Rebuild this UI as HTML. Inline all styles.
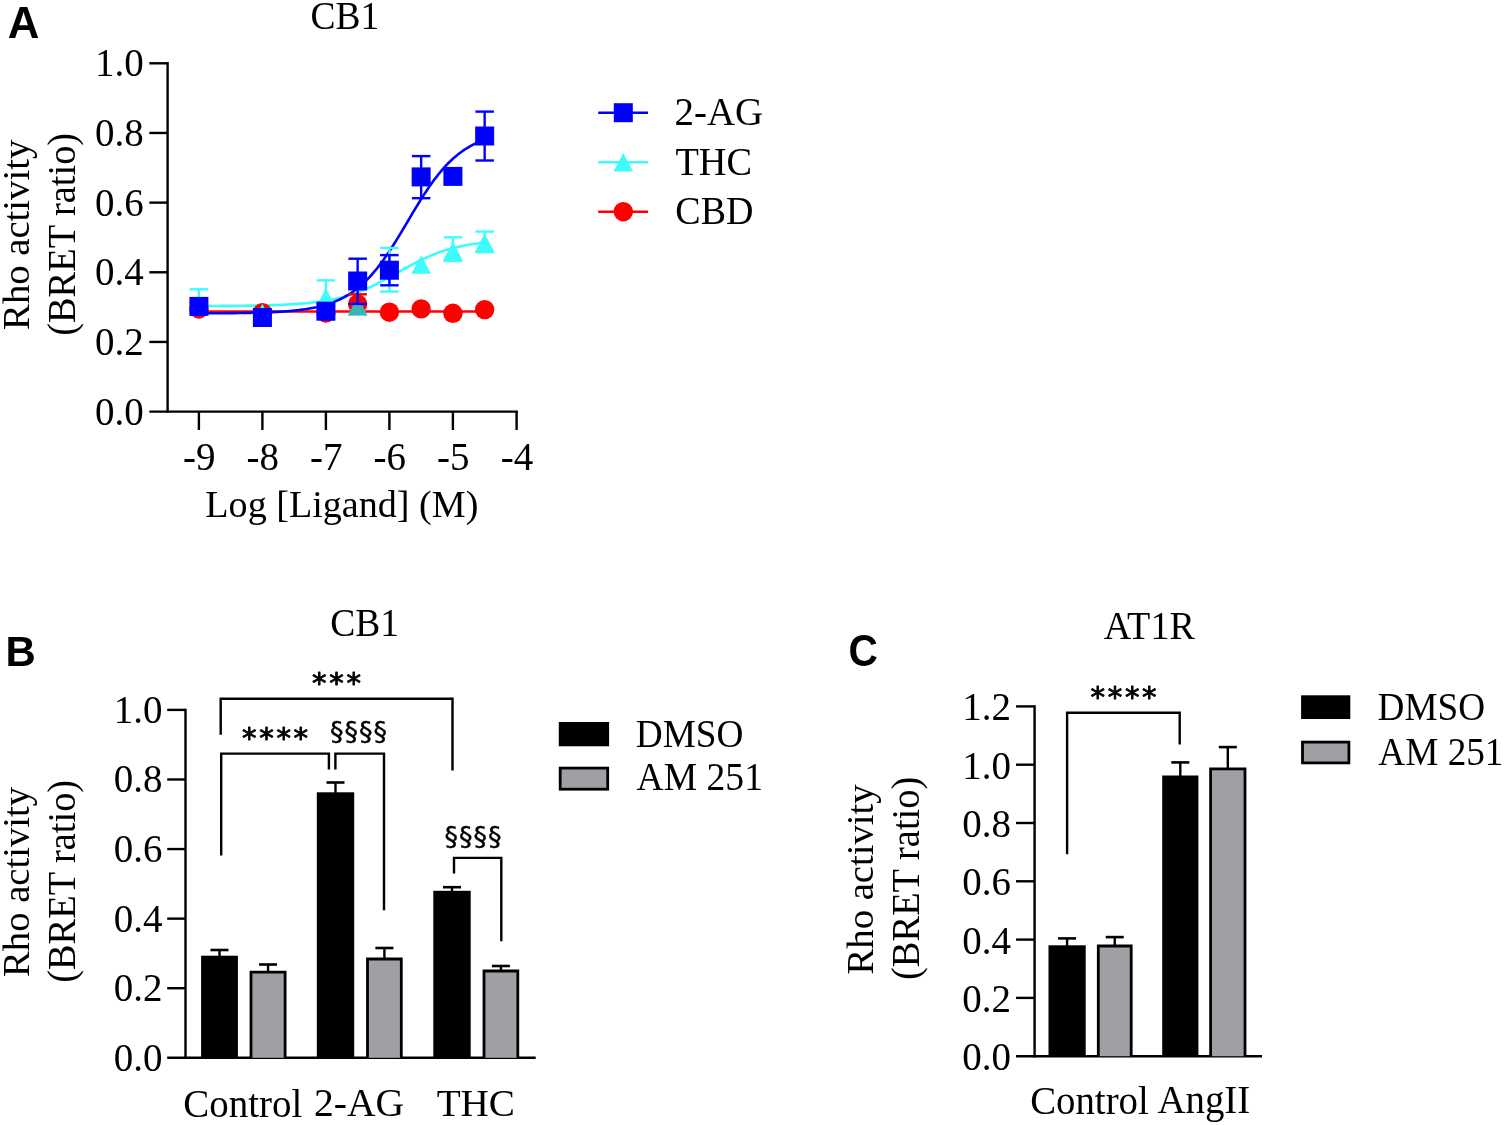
<!DOCTYPE html>
<html><head><meta charset="utf-8"><title>Rho activity BRET figure</title>
<style>html,body{margin:0;padding:0;background:#fff;overflow:hidden}svg{display:block}</style>
</head><body>
<svg width="1505" height="1125" viewBox="0 0 1505 1125">
<rect width="1505" height="1125" fill="#fff"/>
<text transform="matrix(1.0191,0.0000,0.0000,1.0136,7.6809,38.4000)" font-family="'Liberation Sans',Arial,sans-serif" font-size="43" font-weight="bold" >A</text>
<text transform="matrix(0.9864,0.0000,0.0000,1.0549,310.4205,28.7363)" font-family="'Liberation Serif','Times New Roman',serif" font-size="38" font-weight="normal" >CB1</text>
<line x1="167.60" y1="62.10" x2="167.60" y2="412.80" stroke="#000" stroke-width="2.4" stroke-linecap="butt"/>
<line x1="149.30" y1="341.94" x2="167.60" y2="341.94" stroke="#000" stroke-width="2.4" stroke-linecap="butt"/>
<line x1="149.30" y1="272.28" x2="167.60" y2="272.28" stroke="#000" stroke-width="2.4" stroke-linecap="butt"/>
<line x1="149.30" y1="202.62" x2="167.60" y2="202.62" stroke="#000" stroke-width="2.4" stroke-linecap="butt"/>
<line x1="149.30" y1="132.96" x2="167.60" y2="132.96" stroke="#000" stroke-width="2.4" stroke-linecap="butt"/>
<line x1="149.30" y1="63.30" x2="167.60" y2="63.30" stroke="#000" stroke-width="2.4" stroke-linecap="butt"/>
<text transform="translate(143.80,424.60) scale(1,1.03)" font-family="'Liberation Serif','Times New Roman',serif" font-size="39" text-anchor="end">0.0</text>
<text transform="translate(143.80,354.94) scale(1,1.03)" font-family="'Liberation Serif','Times New Roman',serif" font-size="39" text-anchor="end">0.2</text>
<text transform="translate(143.80,285.28) scale(1,1.03)" font-family="'Liberation Serif','Times New Roman',serif" font-size="39" text-anchor="end">0.4</text>
<text transform="translate(143.80,215.62) scale(1,1.03)" font-family="'Liberation Serif','Times New Roman',serif" font-size="39" text-anchor="end">0.6</text>
<text transform="translate(143.80,145.96) scale(1,1.03)" font-family="'Liberation Serif','Times New Roman',serif" font-size="39" text-anchor="end">0.8</text>
<text transform="translate(143.80,76.30) scale(1,1.03)" font-family="'Liberation Serif','Times New Roman',serif" font-size="39" text-anchor="end">1.0</text>
<line x1="149.30" y1="411.60" x2="517.90" y2="411.60" stroke="#000" stroke-width="2.4" stroke-linecap="butt"/>
<line x1="198.90" y1="411.60" x2="198.90" y2="430.00" stroke="#000" stroke-width="2.4" stroke-linecap="butt"/>
<text transform="translate(199.20,470.2) scale(1,1.03)" font-family="'Liberation Serif','Times New Roman',serif" font-size="39" text-anchor="middle">-9</text>
<line x1="262.40" y1="411.60" x2="262.40" y2="430.00" stroke="#000" stroke-width="2.4" stroke-linecap="butt"/>
<text transform="translate(262.70,470.2) scale(1,1.03)" font-family="'Liberation Serif','Times New Roman',serif" font-size="39" text-anchor="middle">-8</text>
<line x1="325.90" y1="411.60" x2="325.90" y2="430.00" stroke="#000" stroke-width="2.4" stroke-linecap="butt"/>
<text transform="translate(326.20,470.2) scale(1,1.03)" font-family="'Liberation Serif','Times New Roman',serif" font-size="39" text-anchor="middle">-7</text>
<line x1="389.40" y1="411.60" x2="389.40" y2="430.00" stroke="#000" stroke-width="2.4" stroke-linecap="butt"/>
<text transform="translate(389.70,470.2) scale(1,1.03)" font-family="'Liberation Serif','Times New Roman',serif" font-size="39" text-anchor="middle">-6</text>
<line x1="452.90" y1="411.60" x2="452.90" y2="430.00" stroke="#000" stroke-width="2.4" stroke-linecap="butt"/>
<text transform="translate(453.20,470.2) scale(1,1.03)" font-family="'Liberation Serif','Times New Roman',serif" font-size="39" text-anchor="middle">-5</text>
<line x1="516.60" y1="411.60" x2="516.60" y2="430.00" stroke="#000" stroke-width="2.4" stroke-linecap="butt"/>
<text transform="translate(516.90,470.2) scale(1,1.03)" font-family="'Liberation Serif','Times New Roman',serif" font-size="39" text-anchor="middle">-4</text>
<text transform="matrix(1.0030,0.0000,0.0000,1.0203,205.2970,516.5826)" font-family="'Liberation Serif','Times New Roman',serif" font-size="38" font-weight="normal" >Log [Ligand] (M)</text>
<text transform="matrix(0.0000,-1.0186,1.0232,0.0000,29.2587,329.9186)" font-family="'Liberation Serif','Times New Roman',serif" font-size="38" font-weight="normal" >Rho activity</text>
<text transform="matrix(0.0000,-1.0106,1.0307,0.0000,74.8547,335.7686)" font-family="'Liberation Serif','Times New Roman',serif" font-size="38" font-weight="normal" >(BRET ratio)</text>
<polyline points="198.90,311.46 200.34,311.46 201.77,311.46 203.21,311.46 204.64,311.46 206.08,311.46 207.52,311.46 208.95,311.46 210.39,311.46 211.82,311.46 213.26,311.46 214.70,311.46 216.13,311.46 217.57,311.46 219.00,311.46 220.44,311.46 221.87,311.46 223.31,311.46 224.75,311.46 226.18,311.46 227.62,311.46 229.05,311.46 230.49,311.46 231.93,311.46 233.36,311.46 234.80,311.46 236.23,311.46 237.67,311.46 239.11,311.46 240.54,311.46 241.98,311.46 243.41,311.46 244.85,311.46 246.29,311.46 247.72,311.46 249.16,311.46 250.59,311.46 252.03,311.46 253.47,311.46 254.90,311.46 256.34,311.46 257.77,311.46 259.21,311.46 260.64,311.46 262.08,311.46 263.52,311.46 264.95,311.46 266.39,311.46 267.82,311.46 269.26,311.46 270.70,311.46 272.13,311.46 273.57,311.46 275.00,311.46 276.44,311.46 277.88,311.46 279.31,311.46 280.75,311.46 282.18,311.46 283.62,311.46 285.06,311.46 286.49,311.46 287.93,311.46 289.36,311.46 290.80,311.46 292.24,311.46 293.67,311.46 295.11,311.46 296.54,311.46 297.98,311.46 299.42,311.46 300.85,311.46 302.29,311.46 303.72,311.46 305.16,311.46 306.59,311.46 308.03,311.46 309.47,311.46 310.90,311.46 312.34,311.46 313.77,311.46 315.21,311.46 316.65,311.46 318.08,311.46 319.52,311.46 320.95,311.46 322.39,311.46 323.83,311.46 325.26,311.46 326.70,311.46 328.13,311.46 329.57,311.46 331.01,311.46 332.44,311.46 333.88,311.46 335.31,311.46 336.75,311.46 338.19,311.46 339.62,311.46 341.06,311.46 342.49,311.46 343.93,311.46 345.36,311.46 346.80,311.46 348.24,311.46 349.67,311.46 351.11,311.46 352.54,311.46 353.98,311.46 355.42,311.46 356.85,311.46 358.29,311.46 359.72,311.46 361.16,311.46 362.60,311.46 364.03,311.46 365.47,311.46 366.90,311.46 368.34,311.46 369.78,311.46 371.21,311.46 372.65,311.46 374.08,311.46 375.52,311.46 376.96,311.46 378.39,311.46 379.83,311.46 381.26,311.46 382.70,311.46 384.13,311.46 385.57,311.46 387.01,311.46 388.44,311.46 389.88,311.46 391.31,311.46 392.75,311.46 394.19,311.46 395.62,311.46 397.06,311.46 398.49,311.46 399.93,311.46 401.37,311.46 402.80,311.46 404.24,311.46 405.67,311.46 407.11,311.46 408.55,311.46 409.98,311.46 411.42,311.46 412.85,311.46 414.29,311.46 415.73,311.46 417.16,311.46 418.60,311.46 420.03,311.46 421.47,311.46 422.91,311.46 424.34,311.46 425.78,311.46 427.21,311.46 428.65,311.46 430.08,311.46 431.52,311.46 432.96,311.46 434.39,311.46 435.83,311.46 437.26,311.46 438.70,311.46 440.14,311.46 441.57,311.46 443.01,311.46 444.44,311.46 445.88,311.46 447.32,311.46 448.75,311.46 450.19,311.46 451.62,311.46 453.06,311.46 454.50,311.46 455.93,311.46 457.37,311.46 458.80,311.46 460.24,311.46 461.68,311.46 463.11,311.46 464.55,311.46 465.98,311.46 467.42,311.46 468.85,311.46 470.29,311.46 471.73,311.46 473.16,311.46 474.60,311.46 476.03,311.46 477.47,311.46 478.91,311.46 480.34,311.46 481.78,311.46 483.21,311.46 484.65,311.46" fill="none" stroke="#ff0000" stroke-width="2.6" stroke-linejoin="miter"/>
<polyline points="198.90,306.01 200.34,306.00 201.77,306.00 203.21,305.99 204.64,305.99 206.08,305.98 207.52,305.98 208.95,305.97 210.39,305.97 211.82,305.96 213.26,305.96 214.70,305.95 216.13,305.94 217.57,305.94 219.00,305.93 220.44,305.92 221.87,305.91 223.31,305.90 224.75,305.90 226.18,305.89 227.62,305.88 229.05,305.87 230.49,305.86 231.93,305.84 233.36,305.83 234.80,305.82 236.23,305.81 237.67,305.79 239.11,305.78 240.54,305.76 241.98,305.75 243.41,305.73 244.85,305.71 246.29,305.69 247.72,305.67 249.16,305.65 250.59,305.63 252.03,305.61 253.47,305.58 254.90,305.56 256.34,305.53 257.77,305.51 259.21,305.48 260.64,305.45 262.08,305.42 263.52,305.38 264.95,305.35 266.39,305.31 267.82,305.27 269.26,305.23 270.70,305.19 272.13,305.15 273.57,305.10 275.00,305.05 276.44,305.00 277.88,304.95 279.31,304.89 280.75,304.84 282.18,304.77 283.62,304.71 285.06,304.64 286.49,304.57 287.93,304.50 289.36,304.42 290.80,304.34 292.24,304.26 293.67,304.17 295.11,304.08 296.54,303.98 297.98,303.88 299.42,303.77 300.85,303.66 302.29,303.54 303.72,303.42 305.16,303.29 306.59,303.16 308.03,303.02 309.47,302.88 310.90,302.72 312.34,302.56 313.77,302.40 315.21,302.22 316.65,302.04 318.08,301.85 319.52,301.66 320.95,301.45 322.39,301.24 323.83,301.01 325.26,300.78 326.70,300.54 328.13,300.29 329.57,300.02 331.01,299.75 332.44,299.46 333.88,299.17 335.31,298.86 336.75,298.54 338.19,298.21 339.62,297.86 341.06,297.51 342.49,297.14 343.93,296.75 345.36,296.35 346.80,295.94 348.24,295.52 349.67,295.08 351.11,294.62 352.54,294.15 353.98,293.67 355.42,293.17 356.85,292.65 358.29,292.12 359.72,291.58 361.16,291.02 362.60,290.44 364.03,289.85 365.47,289.24 366.90,288.62 368.34,287.99 369.78,287.34 371.21,286.67 372.65,286.00 374.08,285.31 375.52,284.60 376.96,283.89 378.39,283.16 379.83,282.42 381.26,281.67 382.70,280.92 384.13,280.15 385.57,279.37 387.01,278.59 388.44,277.80 389.88,277.00 391.31,276.20 392.75,275.39 394.19,274.58 395.62,273.77 397.06,272.96 398.49,272.15 399.93,271.34 401.37,270.53 402.80,269.72 404.24,268.92 405.67,268.12 407.11,267.32 408.55,266.53 409.98,265.75 411.42,264.98 412.85,264.21 414.29,263.46 415.73,262.71 417.16,261.98 418.60,261.26 420.03,260.55 421.47,259.85 422.91,259.16 424.34,258.49 425.78,257.83 427.21,257.19 428.65,256.56 430.08,255.94 431.52,255.34 432.96,254.76 434.39,254.19 435.83,253.63 437.26,253.09 438.70,252.57 440.14,252.06 441.57,251.57 443.01,251.09 444.44,250.62 445.88,250.17 447.32,249.74 448.75,249.32 450.19,248.91 451.62,248.52 453.06,248.14 454.50,247.77 455.93,247.42 457.37,247.08 458.80,246.75 460.24,246.44 461.68,246.13 463.11,245.84 464.55,245.56 465.98,245.29 467.42,245.03 468.85,244.78 470.29,244.54 471.73,244.31 473.16,244.09 474.60,243.88 476.03,243.68 477.47,243.49 478.91,243.30 480.34,243.12 481.78,242.95 483.21,242.79 484.65,242.63" fill="none" stroke="#3cfcfc" stroke-width="2.6" stroke-linejoin="miter"/>
<polyline points="198.90,313.32 200.34,313.31 201.77,313.31 203.21,313.30 204.64,313.30 206.08,313.29 207.52,313.29 208.95,313.28 210.39,313.27 211.82,313.27 213.26,313.26 214.70,313.25 216.13,313.24 217.57,313.23 219.00,313.23 220.44,313.22 221.87,313.21 223.31,313.19 224.75,313.18 226.18,313.17 227.62,313.16 229.05,313.15 230.49,313.13 231.93,313.12 233.36,313.10 234.80,313.08 236.23,313.07 237.67,313.05 239.11,313.03 240.54,313.01 241.98,312.99 243.41,312.97 244.85,312.94 246.29,312.92 247.72,312.89 249.16,312.86 250.59,312.83 252.03,312.80 253.47,312.77 254.90,312.74 256.34,312.70 257.77,312.66 259.21,312.62 260.64,312.58 262.08,312.54 263.52,312.49 264.95,312.44 266.39,312.39 267.82,312.33 269.26,312.28 270.70,312.21 272.13,312.15 273.57,312.08 275.00,312.01 276.44,311.94 277.88,311.86 279.31,311.78 280.75,311.69 282.18,311.60 283.62,311.50 285.06,311.40 286.49,311.29 287.93,311.18 289.36,311.06 290.80,310.93 292.24,310.80 293.67,310.66 295.11,310.51 296.54,310.36 297.98,310.20 299.42,310.03 300.85,309.85 302.29,309.66 303.72,309.46 305.16,309.25 306.59,309.03 308.03,308.80 309.47,308.56 310.90,308.30 312.34,308.04 313.77,307.75 315.21,307.46 316.65,307.15 318.08,306.82 319.52,306.48 320.95,306.11 322.39,305.74 323.83,305.34 325.26,304.92 326.70,304.48 328.13,304.03 329.57,303.54 331.01,303.04 332.44,302.51 333.88,301.96 335.31,301.38 336.75,300.77 338.19,300.14 339.62,299.47 341.06,298.78 342.49,298.05 343.93,297.29 345.36,296.50 346.80,295.67 348.24,294.81 349.67,293.90 351.11,292.97 352.54,291.99 353.98,290.97 355.42,289.91 356.85,288.80 358.29,287.66 359.72,286.47 361.16,285.23 362.60,283.95 364.03,282.62 365.47,281.24 366.90,279.82 368.34,278.34 369.78,276.82 371.21,275.25 372.65,273.63 374.08,271.96 375.52,270.24 376.96,268.47 378.39,266.65 379.83,264.79 381.26,262.88 382.70,260.92 384.13,258.92 385.57,256.87 387.01,254.79 388.44,252.66 389.88,250.49 391.31,248.29 392.75,246.05 394.19,243.78 395.62,241.48 397.06,239.16 398.49,236.81 399.93,234.44 401.37,232.06 402.80,229.65 404.24,227.24 405.67,224.82 407.11,222.39 408.55,219.97 409.98,217.54 411.42,215.12 412.85,212.71 414.29,210.31 415.73,207.93 417.16,205.56 418.60,203.22 420.03,200.90 421.47,198.61 422.91,196.35 424.34,194.12 425.78,191.92 427.21,189.76 428.65,187.64 430.08,185.56 431.52,183.53 432.96,181.53 434.39,179.59 435.83,177.68 437.26,175.83 438.70,174.02 440.14,172.27 441.57,170.56 443.01,168.90 444.44,167.29 445.88,165.72 447.32,164.21 448.75,162.75 450.19,161.33 451.62,159.97 453.06,158.65 454.50,157.37 455.93,156.15 457.37,154.97 458.80,153.83 460.24,152.73 461.68,151.68 463.11,150.67 464.55,149.70 465.98,148.77 467.42,147.88 468.85,147.02 470.29,146.20 471.73,145.41 473.16,144.66 474.60,143.94 476.03,143.25 477.47,142.59 478.91,141.96 480.34,141.36 481.78,140.79 483.21,140.24 484.65,139.72" fill="none" stroke="#0000ff" stroke-width="2.6" stroke-linejoin="miter"/>
<polygon points="347.90,315.50 367.40,315.50 357.65,295.50" fill="#3cfcfc"/>
<circle cx="198.90" cy="309.00" r="9.7" fill="#ff0000"/>
<circle cx="262.40" cy="312.70" r="9.7" fill="#ff0000"/>
<circle cx="325.90" cy="313.00" r="9.7" fill="#ff0000"/>
<line x1="357.65" y1="294.30" x2="357.65" y2="304.00" stroke="#ff0000" stroke-width="2.4" stroke-linecap="butt"/>
<line x1="348.40" y1="294.30" x2="366.90" y2="294.30" stroke="#ff0000" stroke-width="2.4" stroke-linecap="butt"/>
<circle cx="357.65" cy="304.00" r="9.7" fill="#ff0000"/>
<circle cx="389.40" cy="312.20" r="9.7" fill="#ff0000"/>
<circle cx="421.15" cy="308.90" r="9.7" fill="#ff0000"/>
<circle cx="452.90" cy="313.30" r="9.7" fill="#ff0000"/>
<circle cx="484.65" cy="309.60" r="9.7" fill="#ff0000"/>
<polygon points="347.90,315.5 367.40,315.5 362.25,305 353.05,305" fill="#3cb4b4"/>
<line x1="198.90" y1="289.30" x2="198.90" y2="306.00" stroke="#3cfcfc" stroke-width="2.4" stroke-linecap="butt"/>
<line x1="189.65" y1="289.30" x2="208.15" y2="289.30" stroke="#3cfcfc" stroke-width="2.4" stroke-linecap="butt"/>
<polygon points="189.15,315.25 208.65,315.25 198.90,296.75" fill="#3cfcfc"/>
<polygon points="252.65,322.25 272.15,322.25 262.40,303.75" fill="#3cfcfc"/>
<line x1="325.90" y1="280.40" x2="325.90" y2="297.50" stroke="#3cfcfc" stroke-width="2.4" stroke-linecap="butt"/>
<line x1="316.65" y1="280.40" x2="335.15" y2="280.40" stroke="#3cfcfc" stroke-width="2.4" stroke-linecap="butt"/>
<polygon points="316.15,306.75 335.65,306.75 325.90,288.25" fill="#3cfcfc"/>
<line x1="389.40" y1="248.00" x2="389.40" y2="270.00" stroke="#3cfcfc" stroke-width="2.4" stroke-linecap="butt"/>
<line x1="380.15" y1="248.00" x2="398.65" y2="248.00" stroke="#3cfcfc" stroke-width="2.4" stroke-linecap="butt"/>
<line x1="389.40" y1="270.00" x2="389.40" y2="291.60" stroke="#3cfcfc" stroke-width="2.4" stroke-linecap="butt"/>
<line x1="380.15" y1="291.60" x2="398.65" y2="291.60" stroke="#3cfcfc" stroke-width="2.4" stroke-linecap="butt"/>
<polygon points="379.65,279.25 399.15,279.25 389.40,260.75" fill="#3cfcfc"/>
<polygon points="411.40,273.75 430.90,273.75 421.15,255.25" fill="#3cfcfc"/>
<line x1="452.90" y1="237.30" x2="452.90" y2="251.00" stroke="#3cfcfc" stroke-width="2.4" stroke-linecap="butt"/>
<line x1="443.65" y1="237.30" x2="462.15" y2="237.30" stroke="#3cfcfc" stroke-width="2.4" stroke-linecap="butt"/>
<line x1="452.90" y1="251.00" x2="452.90" y2="261.00" stroke="#3cfcfc" stroke-width="2.4" stroke-linecap="butt"/>
<line x1="443.65" y1="261.00" x2="462.15" y2="261.00" stroke="#3cfcfc" stroke-width="2.4" stroke-linecap="butt"/>
<polygon points="443.15,260.25 462.65,260.25 452.90,241.75" fill="#3cfcfc"/>
<line x1="484.65" y1="231.60" x2="484.65" y2="242.70" stroke="#3cfcfc" stroke-width="2.4" stroke-linecap="butt"/>
<line x1="475.40" y1="231.60" x2="493.90" y2="231.60" stroke="#3cfcfc" stroke-width="2.4" stroke-linecap="butt"/>
<line x1="484.65" y1="242.70" x2="484.65" y2="252.00" stroke="#3cfcfc" stroke-width="2.4" stroke-linecap="butt"/>
<line x1="475.40" y1="252.00" x2="493.90" y2="252.00" stroke="#3cfcfc" stroke-width="2.4" stroke-linecap="butt"/>
<polygon points="474.90,251.95 494.40,251.95 484.65,233.45" fill="#3cfcfc"/>
<rect x="189.40" y="296.90" width="19.00" height="19.00" fill="#0000ff"/>
<rect x="252.90" y="308.00" width="19.00" height="19.00" fill="#0000ff"/>
<rect x="316.40" y="301.70" width="19.00" height="19.00" fill="#0000ff"/>
<line x1="357.65" y1="258.70" x2="357.65" y2="281.00" stroke="#0000ff" stroke-width="2.4" stroke-linecap="butt"/>
<line x1="348.40" y1="258.70" x2="366.90" y2="258.70" stroke="#0000ff" stroke-width="2.4" stroke-linecap="butt"/>
<line x1="357.65" y1="281.00" x2="357.65" y2="303.90" stroke="#0000ff" stroke-width="2.4" stroke-linecap="butt"/>
<line x1="348.40" y1="303.90" x2="366.90" y2="303.90" stroke="#0000ff" stroke-width="2.4" stroke-linecap="butt"/>
<rect x="348.15" y="271.50" width="19.00" height="19.00" fill="#0000ff"/>
<line x1="389.40" y1="255.10" x2="389.40" y2="270.20" stroke="#0000ff" stroke-width="2.4" stroke-linecap="butt"/>
<line x1="380.15" y1="255.10" x2="398.65" y2="255.10" stroke="#0000ff" stroke-width="2.4" stroke-linecap="butt"/>
<line x1="389.40" y1="270.20" x2="389.40" y2="285.30" stroke="#0000ff" stroke-width="2.4" stroke-linecap="butt"/>
<line x1="380.15" y1="285.30" x2="398.65" y2="285.30" stroke="#0000ff" stroke-width="2.4" stroke-linecap="butt"/>
<rect x="379.90" y="260.70" width="19.00" height="19.00" fill="#0000ff"/>
<line x1="421.15" y1="156.10" x2="421.15" y2="176.90" stroke="#0000ff" stroke-width="2.4" stroke-linecap="butt"/>
<line x1="411.90" y1="156.10" x2="430.40" y2="156.10" stroke="#0000ff" stroke-width="2.4" stroke-linecap="butt"/>
<line x1="421.15" y1="176.90" x2="421.15" y2="198.20" stroke="#0000ff" stroke-width="2.4" stroke-linecap="butt"/>
<line x1="411.90" y1="198.20" x2="430.40" y2="198.20" stroke="#0000ff" stroke-width="2.4" stroke-linecap="butt"/>
<rect x="411.65" y="167.40" width="19.00" height="19.00" fill="#0000ff"/>
<rect x="443.40" y="166.90" width="19.00" height="19.00" fill="#0000ff"/>
<line x1="484.65" y1="111.60" x2="484.65" y2="136.00" stroke="#0000ff" stroke-width="2.4" stroke-linecap="butt"/>
<line x1="475.40" y1="111.60" x2="493.90" y2="111.60" stroke="#0000ff" stroke-width="2.4" stroke-linecap="butt"/>
<line x1="484.65" y1="136.00" x2="484.65" y2="160.50" stroke="#0000ff" stroke-width="2.4" stroke-linecap="butt"/>
<line x1="475.40" y1="160.50" x2="493.90" y2="160.50" stroke="#0000ff" stroke-width="2.4" stroke-linecap="butt"/>
<rect x="475.15" y="126.50" width="19.00" height="19.00" fill="#0000ff"/>
<line x1="598.20" y1="112.70" x2="648.00" y2="112.70" stroke="#0000ff" stroke-width="2.6" stroke-linecap="butt"/>
<rect x="613.80" y="103.20" width="19.00" height="19.00" fill="#0000ff"/>
<text transform="matrix(0.9983,0.0000,0.0000,1.0192,674.5531,124.6452)" font-family="'Liberation Serif','Times New Roman',serif" font-size="39" font-weight="normal" >2-AG</text>
<line x1="598.20" y1="162.20" x2="648.00" y2="162.20" stroke="#3cfcfc" stroke-width="2.6" stroke-linecap="butt"/>
<polygon points="613.55,171.45 633.05,171.45 623.30,152.95" fill="#3cfcfc"/>
<text transform="matrix(0.9813,0.0000,0.0000,1.0385,675.4640,174.7404)" font-family="'Liberation Serif','Times New Roman',serif" font-size="39" font-weight="normal" >THC</text>
<line x1="598.20" y1="211.70" x2="648.00" y2="211.70" stroke="#ff0000" stroke-width="2.6" stroke-linecap="butt"/>
<circle cx="623.30" cy="211.70" r="9.7" fill="#ff0000"/>
<text transform="matrix(0.9740,0.0000,0.0000,1.0308,675.3390,224.1423)" font-family="'Liberation Serif','Times New Roman',serif" font-size="39" font-weight="normal" >CBD</text>
<text transform="matrix(0.9731,0.0000,0.0000,1.0102,5.4808,665.9000)" font-family="'Liberation Sans',Arial,sans-serif" font-size="43" font-weight="bold" >B</text>
<text transform="matrix(0.9879,0.0000,0.0000,1.0549,330.2182,635.6363)" font-family="'Liberation Serif','Times New Roman',serif" font-size="38" font-weight="normal" >CB1</text>
<line x1="185.50" y1="708.70" x2="185.50" y2="1059.00" stroke="#000" stroke-width="2.4" stroke-linecap="butt"/>
<line x1="167.20" y1="988.22" x2="185.50" y2="988.22" stroke="#000" stroke-width="2.4" stroke-linecap="butt"/>
<line x1="167.20" y1="918.64" x2="185.50" y2="918.64" stroke="#000" stroke-width="2.4" stroke-linecap="butt"/>
<line x1="167.20" y1="849.06" x2="185.50" y2="849.06" stroke="#000" stroke-width="2.4" stroke-linecap="butt"/>
<line x1="167.20" y1="779.48" x2="185.50" y2="779.48" stroke="#000" stroke-width="2.4" stroke-linecap="butt"/>
<line x1="167.20" y1="709.90" x2="185.50" y2="709.90" stroke="#000" stroke-width="2.4" stroke-linecap="butt"/>
<text transform="translate(162.40,1070.80) scale(1,1.03)" font-family="'Liberation Serif','Times New Roman',serif" font-size="39" text-anchor="end">0.0</text>
<text transform="translate(162.40,1001.22) scale(1,1.03)" font-family="'Liberation Serif','Times New Roman',serif" font-size="39" text-anchor="end">0.2</text>
<text transform="translate(162.40,931.64) scale(1,1.03)" font-family="'Liberation Serif','Times New Roman',serif" font-size="39" text-anchor="end">0.4</text>
<text transform="translate(162.40,862.06) scale(1,1.03)" font-family="'Liberation Serif','Times New Roman',serif" font-size="39" text-anchor="end">0.6</text>
<text transform="translate(162.40,792.48) scale(1,1.03)" font-family="'Liberation Serif','Times New Roman',serif" font-size="39" text-anchor="end">0.8</text>
<text transform="translate(162.40,722.90) scale(1,1.03)" font-family="'Liberation Serif','Times New Roman',serif" font-size="39" text-anchor="end">1.0</text>
<line x1="167.20" y1="1057.80" x2="535.70" y2="1057.80" stroke="#000" stroke-width="2.4" stroke-linecap="butt"/>
<text transform="matrix(0.0000,-1.0170,1.0232,0.0000,29.2587,976.9170)" font-family="'Liberation Serif','Times New Roman',serif" font-size="38" font-weight="normal" >Rho activity</text>
<text transform="matrix(0.0000,-1.0106,1.0307,0.0000,74.8547,982.7686)" font-family="'Liberation Serif','Times New Roman',serif" font-size="38" font-weight="normal" >(BRET ratio)</text>
<line x1="219.50" y1="950.00" x2="219.50" y2="956.70" stroke="#000" stroke-width="2.4" stroke-linecap="butt"/>
<line x1="210.50" y1="950.00" x2="228.50" y2="950.00" stroke="#000" stroke-width="2.6" stroke-linecap="butt"/>
<rect x="201.10" y="955.70" width="36.80" height="102.10" fill="#000"/>
<line x1="268.05" y1="964.50" x2="268.05" y2="971.80" stroke="#000" stroke-width="2.4" stroke-linecap="butt"/>
<line x1="259.05" y1="964.50" x2="277.05" y2="964.50" stroke="#000" stroke-width="2.6" stroke-linecap="butt"/>
<rect x="251.00" y="972.20" width="34.10" height="85.60" fill="#a19fa4"/>
<polyline points="251.00,1057.80 251.00,972.20 285.10,972.20 285.10,1057.80" fill="none" stroke="#000" stroke-width="2.8" stroke-linejoin="miter"/>
<line x1="335.50" y1="782.50" x2="335.50" y2="793.30" stroke="#000" stroke-width="2.4" stroke-linecap="butt"/>
<line x1="326.50" y1="782.50" x2="344.50" y2="782.50" stroke="#000" stroke-width="2.6" stroke-linecap="butt"/>
<rect x="316.80" y="792.30" width="37.40" height="265.50" fill="#000"/>
<line x1="384.40" y1="948.00" x2="384.40" y2="958.60" stroke="#000" stroke-width="2.4" stroke-linecap="butt"/>
<line x1="375.40" y1="948.00" x2="393.40" y2="948.00" stroke="#000" stroke-width="2.6" stroke-linecap="butt"/>
<rect x="367.50" y="959.00" width="33.80" height="98.80" fill="#a19fa4"/>
<polyline points="367.50,1057.80 367.50,959.00 401.30,959.00 401.30,1057.80" fill="none" stroke="#000" stroke-width="2.8" stroke-linejoin="miter"/>
<line x1="452.00" y1="887.20" x2="452.00" y2="891.80" stroke="#000" stroke-width="2.4" stroke-linecap="butt"/>
<line x1="443.00" y1="887.20" x2="461.00" y2="887.20" stroke="#000" stroke-width="2.6" stroke-linecap="butt"/>
<rect x="433.30" y="890.80" width="37.40" height="167.00" fill="#000"/>
<line x1="500.90" y1="966.00" x2="500.90" y2="970.60" stroke="#000" stroke-width="2.4" stroke-linecap="butt"/>
<line x1="491.90" y1="966.00" x2="509.90" y2="966.00" stroke="#000" stroke-width="2.6" stroke-linecap="butt"/>
<rect x="484.00" y="971.00" width="33.80" height="86.80" fill="#a19fa4"/>
<polyline points="484.00,1057.80 484.00,971.00 517.80,971.00 517.80,1057.80" fill="none" stroke="#000" stroke-width="2.8" stroke-linejoin="miter"/>
<text transform="matrix(1.0259,0.0000,0.0000,1.0528,183.2611,1116.9368)" font-family="'Liberation Serif','Times New Roman',serif" font-size="38" font-weight="normal" >Control</text>
<text transform="matrix(1.0424,0.0000,0.0000,1.0431,313.9758,1116.2392)" font-family="'Liberation Serif','Times New Roman',serif" font-size="38" font-weight="normal" >2-AG</text>
<text transform="matrix(1.0315,0.0000,0.0000,1.0196,436.6264,1116.2451)" font-family="'Liberation Serif','Times New Roman',serif" font-size="38" font-weight="normal" >THC</text>
<polyline points="220.70,734.70 220.70,698.70 452.50,698.70 452.50,770.60" fill="none" stroke="#000" stroke-width="2.4" stroke-linejoin="miter"/>
<polyline points="221.20,855.60 221.20,753.60 328.90,753.60 328.90,769.60" fill="none" stroke="#000" stroke-width="2.4" stroke-linejoin="miter"/>
<polyline points="335.40,769.60 335.40,753.60 384.00,753.60 384.00,910.20" fill="none" stroke="#000" stroke-width="2.4" stroke-linejoin="miter"/>
<polyline points="454.00,873.40 454.00,857.90 501.30,857.90 501.30,941.30" fill="none" stroke="#000" stroke-width="2.4" stroke-linejoin="miter"/>
<text x="312.00" y="692.50" font-family="'DejaVu Sans',sans-serif" font-size="29" text-anchor="start" letter-spacing="2.7" stroke="#000" stroke-width="0.9" stroke-linejoin="round">***</text>
<text x="242.00" y="748.00" font-family="'DejaVu Sans',sans-serif" font-size="29" text-anchor="start" letter-spacing="2.7" stroke="#000" stroke-width="0.9" stroke-linejoin="round">****</text>
<text x="330.00" y="741.00" font-family="'DejaVu Sans',sans-serif" font-size="27" text-anchor="start" letter-spacing="1" stroke="#000" stroke-width="0.35">§§§§</text>
<text x="444.50" y="845.50" font-family="'DejaVu Sans',sans-serif" font-size="27" text-anchor="start" letter-spacing="1" stroke="#000" stroke-width="0.35">§§§§</text>
<rect x="558.80" y="722.00" width="50.30" height="24.30" fill="#000"/>
<rect x="560.20" y="768.10" width="47.50" height="21.10" fill="#a19fa4" stroke="#000" stroke-width="2.8"/>
<text transform="matrix(1.0067,0.0000,0.0000,1.0788,635.7933,746.5303)" font-family="'Liberation Serif','Times New Roman',serif" font-size="37" font-weight="normal" >DMSO</text>
<text transform="matrix(1.0164,0.0000,0.0000,1.0626,636.5459,790.4343)" font-family="'Liberation Serif','Times New Roman',serif" font-size="37" font-weight="normal" >AM 251</text>
<text transform="matrix(0.9464,0.0000,0.0000,1.0131,848.5438,666.4934)" font-family="'Liberation Sans',Arial,sans-serif" font-size="43" font-weight="bold" >C</text>
<text transform="matrix(1.0022,0.0000,0.0000,1.0600,1103.8494,638.6000)" font-family="'Liberation Serif','Times New Roman',serif" font-size="38" font-weight="normal" >AT1R</text>
<line x1="1034.60" y1="705.20" x2="1034.60" y2="1057.40" stroke="#000" stroke-width="2.4" stroke-linecap="butt"/>
<line x1="1016.00" y1="997.90" x2="1034.60" y2="997.90" stroke="#000" stroke-width="2.4" stroke-linecap="butt"/>
<line x1="1016.00" y1="939.60" x2="1034.60" y2="939.60" stroke="#000" stroke-width="2.4" stroke-linecap="butt"/>
<line x1="1016.00" y1="881.30" x2="1034.60" y2="881.30" stroke="#000" stroke-width="2.4" stroke-linecap="butt"/>
<line x1="1016.00" y1="823.00" x2="1034.60" y2="823.00" stroke="#000" stroke-width="2.4" stroke-linecap="butt"/>
<line x1="1016.00" y1="764.70" x2="1034.60" y2="764.70" stroke="#000" stroke-width="2.4" stroke-linecap="butt"/>
<line x1="1016.00" y1="706.40" x2="1034.60" y2="706.40" stroke="#000" stroke-width="2.4" stroke-linecap="butt"/>
<text transform="translate(1010.90,1070.20) scale(1,1.03)" font-family="'Liberation Serif','Times New Roman',serif" font-size="39" text-anchor="end">0.0</text>
<text transform="translate(1010.90,1011.90) scale(1,1.03)" font-family="'Liberation Serif','Times New Roman',serif" font-size="39" text-anchor="end">0.2</text>
<text transform="translate(1010.90,953.60) scale(1,1.03)" font-family="'Liberation Serif','Times New Roman',serif" font-size="39" text-anchor="end">0.4</text>
<text transform="translate(1010.90,895.30) scale(1,1.03)" font-family="'Liberation Serif','Times New Roman',serif" font-size="39" text-anchor="end">0.6</text>
<text transform="translate(1010.90,837.00) scale(1,1.03)" font-family="'Liberation Serif','Times New Roman',serif" font-size="39" text-anchor="end">0.8</text>
<text transform="translate(1010.90,778.70) scale(1,1.03)" font-family="'Liberation Serif','Times New Roman',serif" font-size="39" text-anchor="end">1.0</text>
<text transform="translate(1010.90,720.40) scale(1,1.03)" font-family="'Liberation Serif','Times New Roman',serif" font-size="39" text-anchor="end">1.2</text>
<line x1="1016.00" y1="1056.20" x2="1262.00" y2="1056.20" stroke="#000" stroke-width="2.4" stroke-linecap="butt"/>
<text transform="matrix(0.0000,-1.0186,1.0232,0.0000,873.4587,974.5186)" font-family="'Liberation Serif','Times New Roman',serif" font-size="38" font-weight="normal" >Rho activity</text>
<text transform="matrix(0.0000,-1.0122,1.0277,0.0000,919.1781,979.9713)" font-family="'Liberation Serif','Times New Roman',serif" font-size="38" font-weight="normal" >(BRET ratio)</text>
<line x1="1067.10" y1="938.40" x2="1067.10" y2="946.30" stroke="#000" stroke-width="2.4" stroke-linecap="butt"/>
<line x1="1058.10" y1="938.40" x2="1076.10" y2="938.40" stroke="#000" stroke-width="2.6" stroke-linecap="butt"/>
<rect x="1048.50" y="945.30" width="37.20" height="110.90" fill="#000"/>
<line x1="1114.75" y1="937.10" x2="1114.75" y2="945.60" stroke="#000" stroke-width="2.4" stroke-linecap="butt"/>
<line x1="1105.75" y1="937.10" x2="1123.75" y2="937.10" stroke="#000" stroke-width="2.6" stroke-linecap="butt"/>
<rect x="1098.30" y="946.00" width="32.90" height="110.20" fill="#a19fa4"/>
<polyline points="1098.30,1056.20 1098.30,946.00 1131.20,946.00 1131.20,1056.20" fill="none" stroke="#000" stroke-width="2.8" stroke-linejoin="miter"/>
<line x1="1180.30" y1="762.40" x2="1180.30" y2="776.50" stroke="#000" stroke-width="2.4" stroke-linecap="butt"/>
<line x1="1171.30" y1="762.40" x2="1189.30" y2="762.40" stroke="#000" stroke-width="2.6" stroke-linecap="butt"/>
<rect x="1162.20" y="775.50" width="36.20" height="280.70" fill="#000"/>
<line x1="1227.80" y1="747.10" x2="1227.80" y2="768.40" stroke="#000" stroke-width="2.4" stroke-linecap="butt"/>
<line x1="1218.80" y1="747.10" x2="1236.80" y2="747.10" stroke="#000" stroke-width="2.6" stroke-linecap="butt"/>
<rect x="1210.60" y="768.80" width="34.40" height="287.40" fill="#a19fa4"/>
<polyline points="1210.60,1056.20 1210.60,768.80 1245.00,768.80 1245.00,1056.20" fill="none" stroke="#000" stroke-width="2.8" stroke-linejoin="miter"/>
<text transform="matrix(1.0215,0.0000,0.0000,1.0340,1030.1677,1113.9415)" font-family="'Liberation Serif','Times New Roman',serif" font-size="38" font-weight="normal" >Control</text>
<text transform="matrix(1.0230,0.0000,0.0000,1.0286,1157.4443,1113.3143)" font-family="'Liberation Serif','Times New Roman',serif" font-size="38" font-weight="normal" >AngII</text>
<polyline points="1067.10,854.20 1067.10,712.70 1179.70,712.70 1179.70,744.50" fill="none" stroke="#000" stroke-width="2.4" stroke-linejoin="miter"/>
<text x="1090.50" y="707.00" font-family="'DejaVu Sans',sans-serif" font-size="29" text-anchor="start" letter-spacing="2.7" stroke="#000" stroke-width="0.9" stroke-linejoin="round">****</text>
<rect x="1301.10" y="695.30" width="49.20" height="23.70" fill="#000"/>
<rect x="1302.50" y="742.10" width="46.40" height="20.80" fill="#a19fa4" stroke="#000" stroke-width="2.8"/>
<text transform="matrix(1.0048,0.0000,0.0000,1.0626,1377.5952,719.9343)" font-family="'Liberation Serif','Times New Roman',serif" font-size="37" font-weight="normal" >DMSO</text>
<text transform="matrix(1.0066,0.0000,0.0000,1.0586,1378.3484,764.5354)" font-family="'Liberation Serif','Times New Roman',serif" font-size="37" font-weight="normal" >AM 251</text>
</svg>
</body></html>
